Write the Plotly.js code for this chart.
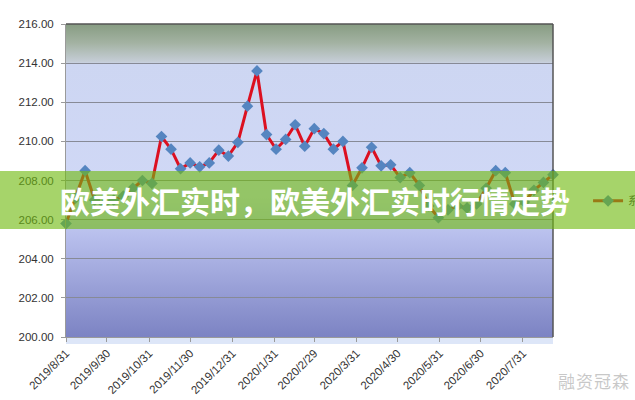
<!DOCTYPE html>
<html>
<head>
<meta charset="utf-8">
<script src="https://cdn.plot.ly/plotly-3.0.1.min.js"></script>
<style>
  html, body { margin: 0; padding: 0; background: #fff; }
  #wrap { position: relative; width: 635px; height: 400px; overflow: hidden; }
  #chart { position: absolute; left: 0; top: 0; width: 635px; height: 400px; }
  #banner {
    position: absolute; left: 0; top: 171px; width: 635px; height: 58px;
    background: rgba(112,186,15,0.62);
    display: flex; align-items: center;
  }
  #banner span {
    margin-left: 60px; color: #fff; font-weight: 700; font-size: 30px;
    font-family: "Noto Sans CJK SC", sans-serif; letter-spacing: 0px; white-space: nowrap;
  }
  #wm {
    position: absolute; left: 558px; top: 368px; font-size: 17px; color: rgba(190,190,190,0.85);
    font-family: "Noto Sans CJK SC", sans-serif; white-space: nowrap; letter-spacing: 1px;
  }
</style>
</head>
<body>
<div id="wrap">
  <div id="chart"></div>
  <div id="banner"><span>欧美外汇实时，欧美外汇实时行情走势</span></div>
  <div id="wm">融资冠森</div>
</div>
<script>
var dates = [
  "2019-08-31","2019-09-07","2019-09-14","2019-09-21","2019-09-28","2019-10-05","2019-10-12","2019-10-19","2019-10-26",
  "2019-11-02","2019-11-09","2019-11-16","2019-11-23","2019-11-30","2019-12-07","2019-12-14","2019-12-21","2019-12-28",
  "2020-01-04","2020-01-11","2020-01-18","2020-01-25","2020-02-01","2020-02-08","2020-02-15","2020-02-22","2020-02-29",
  "2020-03-07","2020-03-14","2020-03-21","2020-03-28","2020-04-04","2020-04-11","2020-04-18","2020-04-25",
  "2020-05-02","2020-05-09","2020-05-16","2020-05-23","2020-05-30","2020-06-06","2020-06-13","2020-06-20","2020-06-27",
  "2020-07-04","2020-07-11","2020-07-18","2020-07-25","2020-08-01","2020-08-08","2020-08-15","2020-08-22"
];
var rates = [
  205.8, 207.1, 208.5, 207.0, 206.8, 207.0, 207.2, 207.6, 208.0,
  207.85, 210.25, 209.6, 208.6, 208.9, 208.7, 208.9, 209.55, 209.25,
  209.95, 211.8, 213.6, 210.35, 209.6, 210.1, 210.85, 209.75, 210.65,
  210.4, 209.6, 210.0, 207.75, 208.65, 209.7, 208.75, 208.8,
  208.15, 208.4, 207.75, 206.7, 206.1, 206.5, 206.7, 206.6, 206.8,
  207.6, 208.5, 208.4, 206.8, 206.9, 207.5, 207.9, 208.3
];
var seriesName = "系列1";
var tickDates = ["2019-08-31","2019-09-30","2019-10-31","2019-11-30","2019-12-31","2020-01-31","2020-02-29","2020-03-31","2020-04-30","2020-05-31","2020-06-30","2020-07-31"];
var tickLabels = ["2019/8/31","2019/9/30","2019/10/31","2019/11/30","2019/12/31","2020/1/31","2020/2/29","2020/3/31","2020/4/30","2020/5/31","2020/6/30","2020/7/31"];
var yTicks = [200, 202, 204, 206, 208, 210, 212, 214, 216];

var bgSvg = '<svg xmlns="http://www.w3.org/2000/svg" width="100" height="313" preserveAspectRatio="none">' +
  '<defs><linearGradient id="g" x1="0" y1="0" x2="0" y2="1">' +
  '<stop offset="0" stop-color="#879c82"/>' +
  '<stop offset="0.06" stop-color="#a3b2a2"/>' +
  '<stop offset="0.122" stop-color="#c6ced8"/>' +
  '<stop offset="0.126" stop-color="#cdd6f2"/>' +
  '<stop offset="0.55" stop-color="#d0d8f6"/>' +
  '<stop offset="0.68" stop-color="#b7beec"/>' +
  '<stop offset="1" stop-color="#7c83c3"/>' +
  '</linearGradient></defs><rect x="0" y="0" width="100" height="313" fill="url(#g)"/></svg>';
var bgSrc = 'data:image/svg+xml;charset=utf-8,' + encodeURIComponent(bgSvg);

var trace = {
  x: dates, y: rates, type: 'scatter', mode: 'lines+markers', name: seriesName,
  line: {color: '#dc1020', width: 3},
  marker: {symbol: 'diamond', size: 9, color: '#5585c0', line: {width: 0}},
  cliponaxis: false
};

var layout = {
  width: 635, height: 400,
  margin: {l: 66, r: 82, t: 24, b: 63, autoexpand: false},
  paper_bgcolor: '#ffffff',
  plot_bgcolor: 'rgba(0,0,0,0)',
  font: {family: '"Liberation Sans", Arial, sans-serif', color: '#333'},
  showlegend: true,
  legend: {x: 1.072, xanchor: 'left', y: 0.435, yanchor: 'middle', bgcolor: 'rgba(0,0,0,0)',
           font: {size: 11, color: '#333', family: '"Noto Sans CJK SC", sans-serif'}},
  xaxis: {
    type: 'date', range: ['2019-08-31', '2020-08-22'],
    tickmode: 'array', tickvals: tickDates, ticktext: tickLabels,
    tickangle: -45, tickfont: {size: 11.5, color: '#333'},
    ticks: 'outside', ticklen: 4, tickcolor: '#9a9a9a',
    showgrid: false, showline: true, linecolor: '#9a9a9a', linewidth: 1, zeroline: false
  },
  yaxis: {
    range: [200, 216], tickmode: 'array', tickvals: yTicks, tickformat: '.2f',
    tickfont: {size: 11.5, color: '#333'}, ticklabelstandoff: 5,
    ticks: 'outside', ticklen: 4, tickcolor: '#9a9a9a',
    showgrid: true, gridcolor: '#878a96', gridwidth: 1,
    showline: true, linecolor: '#9a9a9a', linewidth: 1, zeroline: false
  },
  images: [{source: bgSrc, xref: 'paper', yref: 'paper', x: 0, y: 1, sizex: 1, sizey: 1,
            xanchor: 'left', yanchor: 'top', sizing: 'stretch', layer: 'below'}],
  shapes: [
    {type: 'line', xref: 'paper', yref: 'paper', x0: 0, x1: 1, y0: 1, y1: 1, line: {color: '#555', width: 1.5}},
    {type: 'line', xref: 'paper', yref: 'paper', x0: 1, x1: 1, y0: 0, y1: 1, line: {color: '#555', width: 1.5}},
    {type: 'rect', xref: 'paper', yref: 'paper', x0: 0, x1: 1, y0: -0.022, y1: 0, line: {width: 0},
     fillcolor: 'rgba(180,200,240,0.45)', layer: 'below'}
  ]
};

Plotly.newPlot('chart', [trace], layout, {displayModeBar: false, staticPlot: true});
</script>
</body>
</html>
